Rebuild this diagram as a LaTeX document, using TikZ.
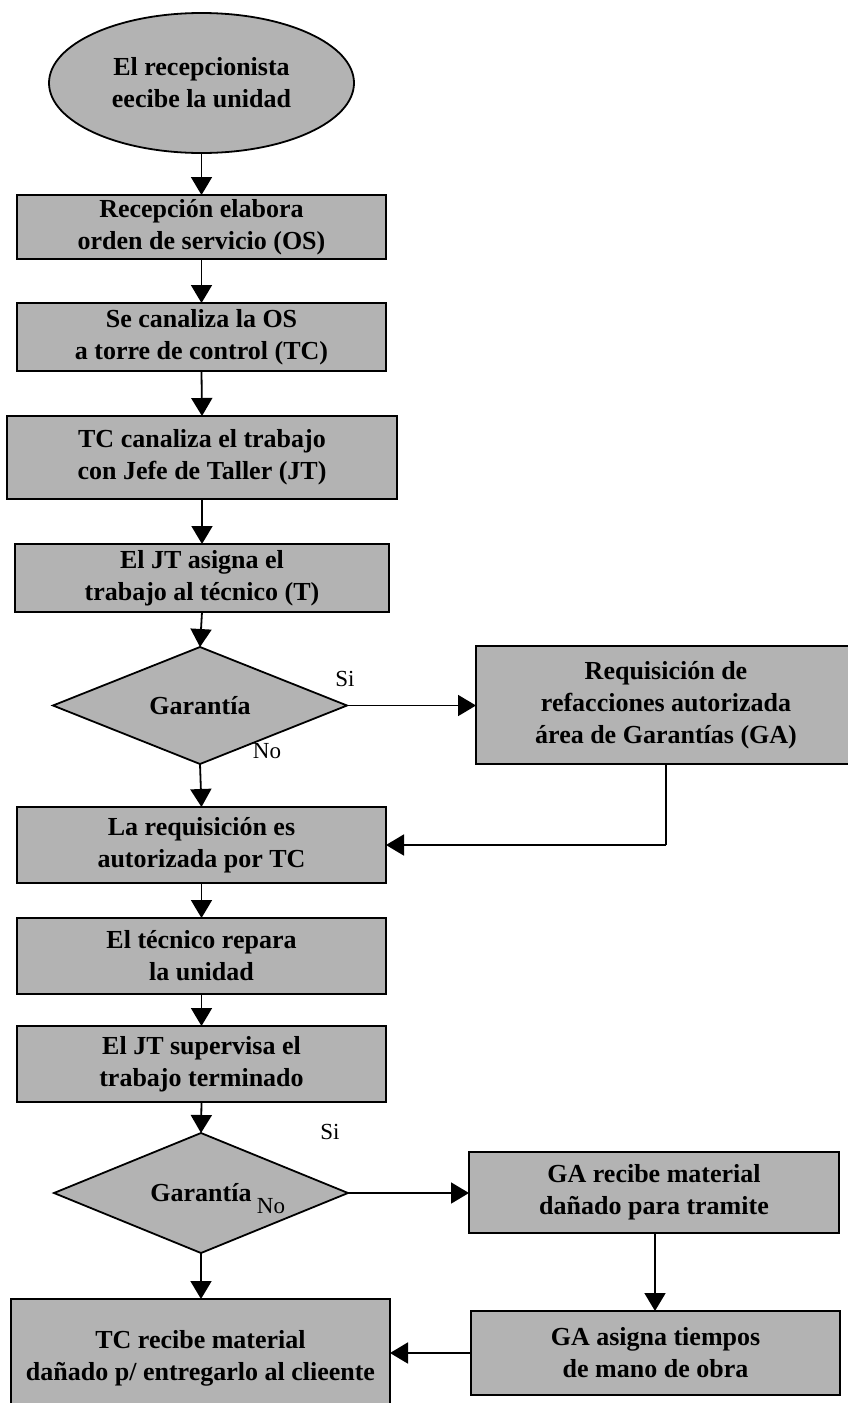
\documentclass[tikz,border=0pt]{standalone}
\usepackage{fontspec}
\setmainfont{Liberation Serif}
\usetikzlibrary{shapes.geometric,arrows.meta}
\definecolor{boxgray}{RGB}{179,179,179}
\begin{document}
\begin{tikzpicture}[x=1pt,y=-1pt,
  every node/.style={inner sep=0pt, outer sep=0pt},
  stepbox/.style={draw=black, line width=1.8pt, fill=boxgray, rectangle, align=center,
    font=\fontsize{26}{32}\selectfont\bfseries},
  startnode/.style={draw=black, line width=1.8pt, fill=boxgray, ellipse, align=center,
    font=\fontsize{26}{32}\selectfont\bfseries},
  decision/.style={draw=black, line width=1.8pt, fill=boxgray, diamond, align=center,
    font=\fontsize{26}{32}\selectfont\bfseries},
  lbl/.style={font=\fontsize{23}{27}\selectfont},
  conn/.style={line width=1.8pt, -{Triangle[length=18pt,width=21pt]}},
  plain/.style={line width=1.8pt}
]
\useasboundingbox (0,0) rectangle (847,1403);

\node[startnode, minimum width=305pt, minimum height=140pt] (ell) at (201.5,83)
  {El recepcionista\\eecibe la unidad};
\node[stepbox, minimum width=369pt, minimum height=64pt] (b1) at (201.5,227)
  {Recepción elabora\\orden de servicio (OS)};
\node[stepbox, minimum width=369pt, minimum height=68pt] (b2) at (201.5,337)
  {Se canaliza la OS\\a torre de control (TC)};
\node[stepbox, minimum width=390pt, minimum height=83pt] (b3) at (202,457.5)
  {TC canaliza el trabajo\\con Jefe de Taller (JT)};
\node[stepbox, minimum width=374pt, minimum height=68pt] (b4) at (202,578)
  {El JT asigna el\\trabajo al técnico (T)};
\node[decision, minimum width=294pt, minimum height=117pt, aspect=2.5] (d1) at (200,705.5)
  {Garantía};
\node[stepbox, minimum width=380pt, minimum height=118pt] (req) at (666,705)
  {Requisición de\\refacciones autorizada\\área de Garantías (GA)};
\node[stepbox, minimum width=369pt, minimum height=76pt] (b5) at (201.5,845)
  {La requisición es\\autorizada por TC};
\node[stepbox, minimum width=369pt, minimum height=76pt] (b6) at (201.5,956)
  {El técnico repara\\la unidad};
\node[stepbox, minimum width=369pt, minimum height=76pt] (b7) at (201.5,1064)
  {El JT supervisa el\\trabajo terminado};
\node[decision, minimum width=294pt, minimum height=120pt, aspect=2.45] (d2) at (201,1193)
  {Garantía};
\node[stepbox, minimum width=370pt, minimum height=81pt] (ga1) at (654,1192.5)
  {GA recibe material\\dañado para tramite};
\node[stepbox, minimum width=369pt, minimum height=84pt] (ga2) at (655.5,1353)
  {GA asigna tiempos\\de mano de obra};
\node[stepbox, minimum width=379pt, minimum height=112pt, text depth=0pt] (tc) at (200.5,1355)
  {TC recibe material\\dañado p/ entregarlo al clieente};

\node[lbl] (si1) at (345,679) {Si};
\node[lbl] (no1) at (267,751) {No};
\node[lbl] (si2) at (330,1132) {Si};
\node[lbl] (no2) at (271,1206) {No};

\coordinate (rq) at (666,845);

\draw[conn] (ell.south) -- (b1.north);
\draw[conn] (b1.south) -- (b2.north);
\draw[conn] (b2.south) -- (b3.north);
\draw[conn] (b3.south) -- (b4.north);
\draw[conn] (b4.south) -- (d1.north);
\draw[conn] (d1.south) -- (b5.north);
\draw[conn] (d1.east) -- (d1.east -| req.west);
\draw[plain] (req.south) -- (rq);
\draw[conn] (rq) -- (rq -| b5.east);
\draw[conn] (b5.south) -- (b6.north);
\draw[conn] (b6.south) -- (b7.north);
\draw[conn] (b7.south) -- (d2.north);
\draw[conn] (d2.south) -- (d2.south |- tc.north);
\draw[conn] (d2.east) -- (d2.east -| ga1.west);
\draw[conn] (ga1.south -| 655,0) -- (ga2.north -| 655,0);
\draw[conn] (ga2.west) -- (ga2.west -| tc.east);
\end{tikzpicture}
\end{document}
